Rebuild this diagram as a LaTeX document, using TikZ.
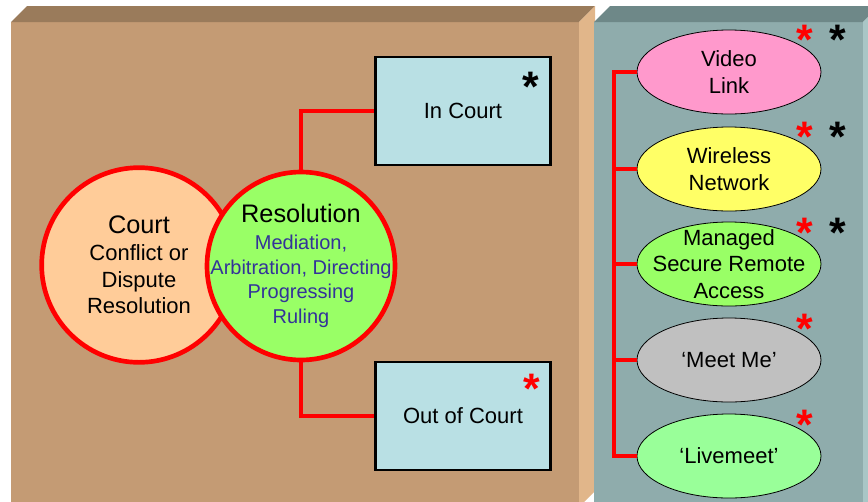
\documentclass[tikz,border=0pt]{standalone}
\usepackage{fontspec}
\setmainfont{Liberation Sans}
\usepackage{tikz}
\usepackage{xcolor}
\usetikzlibrary{shapes.geometric,positioning}
\definecolor{tanfront}{HTML}{C49B74}
\definecolor{tantop}{HTML}{9A7B5B}
\definecolor{tanside}{HTML}{E1B68A}
\definecolor{tealfront}{HTML}{8FACAC}
\definecolor{tealtop}{HTML}{6E8888}
\definecolor{tealside}{HTML}{A9C6C6}
\definecolor{peach}{HTML}{FFCC99}
\definecolor{lime}{HTML}{99FF66}
\definecolor{paleblue}{HTML}{B9E0E4}
\definecolor{pinkfill}{HTML}{FF99CC}
\definecolor{yellowfill}{HTML}{FFFF66}
\definecolor{greyfill}{HTML}{C0C0C0}
\definecolor{mintfill}{HTML}{99FF99}
\definecolor{bluetext}{HTML}{333399}
\tikzset{
  bigcircle/.style={circle,draw=red,line width=3.5pt,inner sep=0pt},
  circtext/.style={align=center,inner sep=0pt,font=\fontsize{16.5}{20}\selectfont},
  courtbox/.style={rectangle,draw=black,line width=2.2pt,fill=paleblue,
                   minimum width=131pt,minimum height=81pt,inner sep=0pt,
                   font=\fontsize{16.5}{20}\selectfont},
  option/.style={ellipse,draw=black,line width=0.6pt,
                 minimum width=138pt,minimum height=63pt,inner sep=0pt},
  optext/.style={align=center,inner sep=0pt,font=\fontsize{16.5}{20}\selectfont},
  redlink/.style={draw=red,line width=3pt},
  buslink/.style={draw=red,line width=2.3pt},
  redstar/.style={text=red,inner sep=0pt,font=\fontsize{32}{32}\bfseries\selectfont},
  blackstar/.style={redstar,text=black}
}

\begin{document}
\begin{tikzpicture}[x=0.75pt,y=-0.75pt]
  \useasboundingbox (0,0) rectangle (868,501);
  \clip (0,0) rectangle (868,501);
  \fill[tanfront] (11,22) rectangle (579,510);
  \fill[tantop] (11,22) -- (27,6) -- (595,6) -- (579,22) -- cycle;
  \fill[tanside] (579,22) -- (595,6) -- (595,491) -- (579,507) -- cycle;
  \fill[tealfront] (594,22) rectangle (863,510);
  \fill[tealtop] (594,22) -- (610,6) -- (879,6) -- (863,22) -- cycle;
  \fill[tealside] (863,22) -- (879,6) -- (879,491) -- (863,507) -- cycle;

  \node[bigcircle,fill=peach,minimum size=146pt] (court) at (139,265) {};
  \node[bigcircle,fill=lime,minimum size=141pt] (res) at (301,266) {};
  \node[circtext] (courttext) at (court.center)
    {{\fontsize{19}{20}\selectfont Court}\\Conflict or\\Dispute\\Resolution};
  \node[circtext,font=\fontsize{15}{18.4}\selectfont\color{bluetext}] (restext) at (res.center)
    {{\fontsize{19}{20}\selectfont\color{black}Resolution}\\[1.6pt]Mediation,\\Arbitration, Directing\\Progressing\\Ruling};

  \node[courtbox] (incourt) at (463,111) {In Court};
  \node[courtbox] (outcourt) at (463,416) {Out of Court};
  \draw[redlink] (res.north) |- (incourt.west);
  \draw[redlink] (res.south) |- (outcourt.west);
  \node[blackstar] (incourtstar) at (531,87) {*};
  \node[redstar] (outcourtstar) at (532,389) {*};

  \node[option,fill=pinkfill] (video) at (729,72) {};
  \node[option,fill=yellowfill] (wireless) at (729,169) {};
  \node[option,fill=lime] (managed) at (729,264) {};
  \node[option,fill=greyfill] (meetme) at (729,360) {};
  \node[option,fill=mintfill] (livemeet) at (729,456) {};
  \node[optext] (videotext) at (video.center) {Video\\Link};
  \node[optext] (wirelesstext) at (wireless.center) {Wireless\\Network};
  \node[optext] (managedtext) at (managed.center) {Managed\\Secure Remote\\Access};
  \node[optext] (meetmetext) at (meetme.center) {`Meet Me'};
  \node[optext] (livemeettext) at (livemeet.center) {`Livemeet'};

  \coordinate (bustop) at (614,72);
  \draw[buslink] (video.west) -- (video.west -| bustop) |- (livemeet.west);
  \draw[buslink] (wireless.west) -- (wireless.west -| bustop);
  \draw[buslink] (managed.west) -- (managed.west -| bustop);
  \draw[buslink] (meetme.west) -- (meetme.west -| bustop);

  \node[redstar] (videored) at (805,40) {*};
  \node[blackstar] (videoblack) at (838,40) {*};
  \node[redstar] (wirelessred) at (805,137) {*};
  \node[blackstar] (wirelessblack) at (838,137) {*};
  \node[redstar] (managedred) at (805,233) {*};
  \node[blackstar] (managedblack) at (838,233) {*};
  \node[redstar] (meetmered) at (805,329) {*};
  \node[redstar] (livemeetred) at (805,425) {*};
\end{tikzpicture}
\end{document}
